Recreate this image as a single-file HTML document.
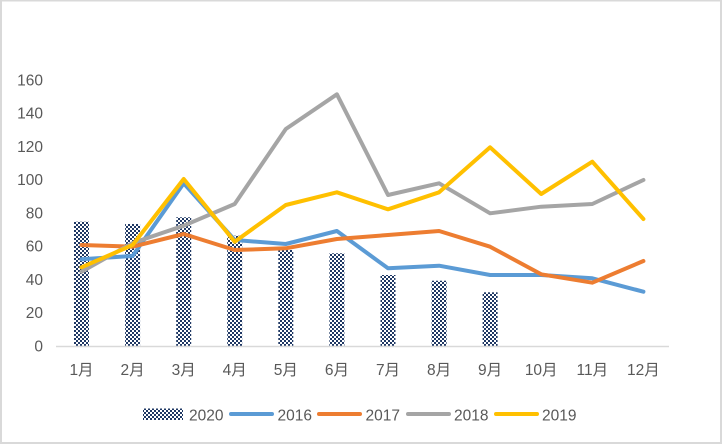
<!DOCTYPE html>
<html><head><meta charset="utf-8">
<style>
html,body{margin:0;padding:0;background:#fff;}
svg{display:block;}
text{font-family:"Liberation Sans","Noto Sans CJK SC",sans-serif;fill:#595959;font-size:15.5px;}
</style></head>
<body>
<svg width="722" height="444" viewBox="0 0 722 444" xmlns="http://www.w3.org/2000/svg">
<defs>
<pattern id="chk" width="4" height="4" patternUnits="userSpaceOnUse">
<rect width="4" height="4" fill="#fff"/>
<rect x="0" y="0" width="2" height="2" fill="#1f3864"/>
<rect x="2" y="2" width="2" height="2" fill="#1f3864"/>
</pattern>
</defs>
<rect x="0" y="0" width="722" height="444" fill="#fff"/>
<rect x="1" y="0.5" width="720" height="442.5" fill="none" stroke="#d9d9d9" stroke-width="2"/>

<!-- y labels -->
<g text-anchor="end">
<text x="43" y="351.5">0</text>
<text x="43" y="318.2">20</text>
<text x="43" y="285">40</text>
<text x="43" y="251.7">60</text>
<text x="43" y="218.5">80</text>
<text x="43" y="185.2">100</text>
<text x="43" y="152">120</text>
<text x="43" y="118.7">140</text>
<text x="43" y="85.5">160</text>
</g>

<!-- bars 2020 -->
<g fill="url(#chk)">
<rect x="74" y="221.7" width="15" height="124.3"/>
<rect x="125.1" y="224" width="15" height="122"/>
<rect x="176.2" y="217.3" width="15" height="128.7"/>
<rect x="227.2" y="235.7" width="15" height="110.3"/>
<rect x="278.3" y="250" width="15" height="96"/>
<rect x="329.4" y="253.3" width="15" height="92.7"/>
<rect x="380.5" y="275" width="15" height="71"/>
<rect x="431.6" y="280.7" width="15" height="65.3"/>
<rect x="482.6" y="292.3" width="15" height="53.7"/>
</g>

<!-- axis -->
<line x1="56" y1="346.5" x2="669" y2="346.5" stroke="#d9d9d9" stroke-width="1.5"/>

<!-- lines -->
<g fill="none" stroke-width="4" stroke-linejoin="round" stroke-linecap="round">
<polyline stroke="#5B9BD5" points="81.5,259.3 132.6,256 183.7,183.3 234.7,240 285.8,244 336.9,231 388,268.3 439.1,265.7 490.1,275 541.2,275 592.3,278.3 643.4,291.7"/>
<polyline stroke="#ED7D31" points="81.5,245 132.6,246.7 183.7,234 234.7,250 285.8,248.3 336.9,239 388,235 439.1,231 490.1,246.7 541.2,274.3 592.3,282.7 643.4,261"/>
<polyline stroke="#A5A5A5" points="81.5,271.7 132.6,243 183.7,225.7 234.7,204 285.8,129 336.9,94.3 388,195 439.1,183.3 490.1,213.3 541.2,206.7 592.3,204 643.4,180"/>
<polyline stroke="#FFC000" points="81.5,267.3 132.6,245 183.7,179 234.7,241.7 285.8,205 336.9,192.3 388,209.3 439.1,192.3 490.1,147.3 541.2,194 592.3,161.7 643.4,219"/>
</g>

<!-- x labels -->
<g text-anchor="middle">
<text x="81.5" y="375">1月</text>
<text x="132.6" y="375">2月</text>
<text x="183.7" y="375">3月</text>
<text x="234.7" y="375">4月</text>
<text x="285.8" y="375">5月</text>
<text x="336.9" y="375">6月</text>
<text x="388" y="375">7月</text>
<text x="439.1" y="375">8月</text>
<text x="490.1" y="375">9月</text>
<text x="541.2" y="375">10月</text>
<text x="592.3" y="375">11月</text>
<text x="643.4" y="375">12月</text>
</g>

<!-- legend -->
<rect x="143" y="408.5" width="40" height="11.5" fill="url(#chk)"/>
<text x="189" y="420.5">2020</text>
<g stroke-width="4" stroke-linecap="round">
<line x1="231" y1="414" x2="272" y2="414" stroke="#5B9BD5"/>
<line x1="319" y1="414" x2="360" y2="414" stroke="#ED7D31"/>
<line x1="408" y1="414" x2="449" y2="414" stroke="#A5A5A5"/>
<line x1="496" y1="414" x2="537" y2="414" stroke="#FFC000"/>
</g>
<text x="277.5" y="420.5">2016</text>
<text x="365.5" y="420.5">2017</text>
<text x="454" y="420.5">2018</text>
<text x="542" y="420.5">2019</text>
</svg>
</body></html>
